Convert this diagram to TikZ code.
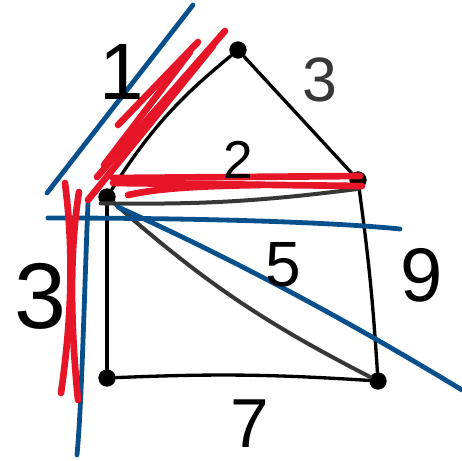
\documentclass[tikz,border=0pt]{standalone}
\usepackage{fontspec}
\setmainfont{Liberation Sans}
\definecolor{stiftrot}{RGB}{230,22,40}
\definecolor{stiftblau}{RGB}{8,80,140}
\definecolor{stiftgrau}{RGB}{55,55,55}
\begin{document}
\begin{tikzpicture}[x=0.75pt,y=-0.75pt,
    ecke/.style={circle,fill=black,inner sep=0pt,minimum size=13pt},
    kante/.style={line width=2.5pt,line cap=round},
    grau/.style={stiftgrau,line width=3pt,line cap=round},
    rot/.style={stiftrot,line width=5pt,line cap=round},
    blau/.style={stiftblau,line width=3.6pt,line cap=round},
    zahl/.style={inner sep=0pt,font=\fontsize{#1}{#1}\selectfont}]
    \useasboundingbox (0,0) rectangle (462,461);

    %Ecken
    \node[ecke] (oben) at (238,50) {};
    \node[ecke] (li) at (107,197) {};
    \node[ecke] (re) at (358,180) {};
    \node[ecke] (lu) at (107,378) {};
    \node[ecke] (ru) at (378,381) {};

    %Kanten
    \draw[kante] (oben) to[bend right=9] (li);
    \draw[kante] (oben) -- (re);
    \draw[kante] (re) to[bend left=2] (ru);
    \draw[kante] (li) -- (lu);
    \draw[kante] (lu) to[bend left=3] (ru);
    \draw[grau] (li.south west) to[bend right=4] (re.south);
    \draw[grau] (li) to[bend right=7] (ru);

    %Blau
    \draw[blau] (193,5) -- (47,193);
    \draw[blau] (48,218) .. controls (200,218) and (330,222) .. (400,229);
    \draw[blau] (118,207) .. controls (233,259) and (347,320) .. (462,390);
    \draw[blau] (88,203) .. controls (84,300) and (82,400) .. (77,455);

    %Rot
    \draw[rot] (225,31) -- (97,177);
    \draw[rot] (213,46) -- (88,200);
    \draw[rot] (198,42) -- (118,125);
    \draw[rot] (190,52) -- (104,165);
    \draw[rot] (113,178) -- (360,176);
    \draw[rot] (113,183) -- (362,186);
    \draw[rot] (128,195) .. controls (160,188) and (200,186) .. (260,185);
    \draw[rot] (65,183) .. controls (75,260) and (70,330) .. (61,393);
    \draw[rot] (79,192) .. controls (68,260) and (72,340) .. (78,400);

    %Beschriftung
    \node[zahl=60] (eins) at (122,72) {1};
    \node[zahl=47,text=stiftgrau] (drei) at (320,80) {3};
    \node[zahl=40] (zwei) at (238,160) {2};
    \node[zahl=48] (fuenf) at (283,265) {5};
    \node[zahl=57] (neun) at (422,275) {9};
    \node[zahl=52] (sieben) at (250,424) {7};
    \node[zahl=70] (dreilinks) at (40,296) {3};
\end{tikzpicture}
\end{document}
